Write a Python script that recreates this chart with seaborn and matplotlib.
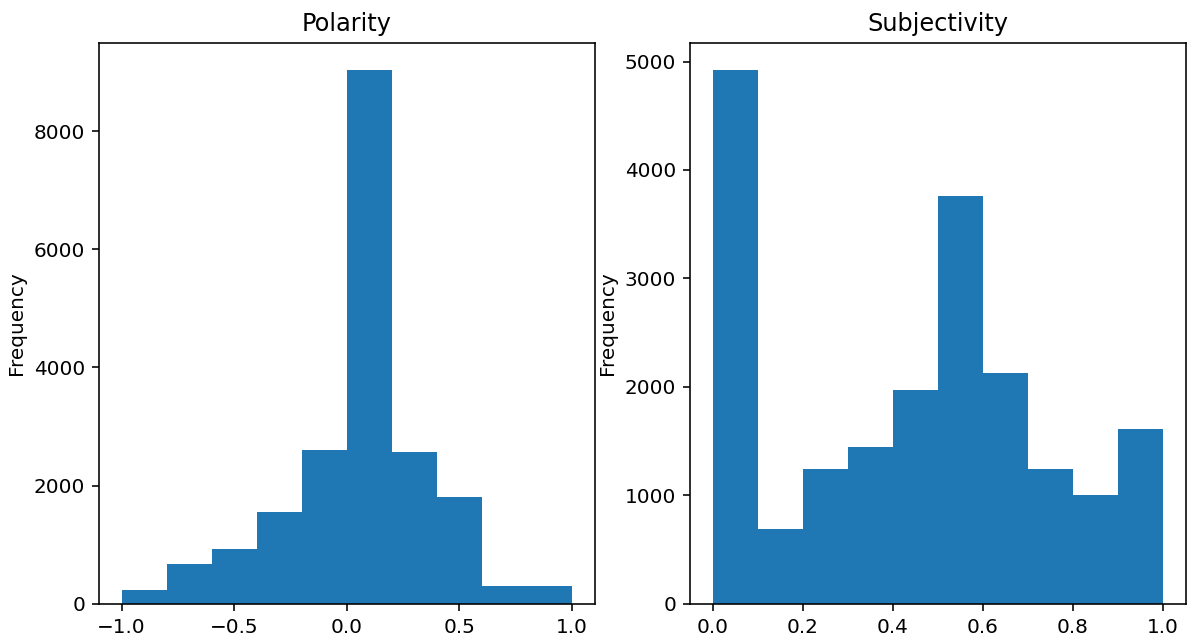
import numpy as np
import pandas as pd
import matplotlib
matplotlib.use("Agg")
import matplotlib.pyplot as plt
from matplotlib.ticker import MultipleLocator
import seaborn as sns

# bin edges and counts
polarity_edges = [-1.0, -0.8, -0.6, -0.4, -0.2, 0.0, 0.2, 0.4, 0.6, 0.8, 1.0]
polarity_counts = [226, 671, 922, 1561, 2602, 9040, 2577, 1806, 301, 301]

subjectivity_edges = [0.0, 0.1, 0.2, 0.3, 0.4, 0.5, 0.6, 0.7, 0.8, 0.9, 1.0]
subjectivity_counts = [4925, 690, 1243, 1445, 1970, 3757, 2128, 1243, 1001, 1615]


def histograma(ax, edges, counts, titulo, paso):
    """ Dibuja un histograma a partir de los bordes y las cuentas de cada bin """
    bordes = np.array(edges)
    centros = (bordes[:-1] + bordes[1:]) / 2
    df = pd.DataFrame({"x": centros, "n": counts})
    sns.histplot(data=df, x="x", weights="n", bins=list(edges), ax=ax,
                 color="#1f77b4", alpha=1, edgecolor="none", linewidth=0)
    ax.set_title(titulo, fontsize=12)
    ax.set_xlabel("")
    ax.set_ylabel("Frequency")
    ax.xaxis.set_major_locator(MultipleLocator(paso))


fig, axes = plt.subplots(1, 2, figsize=(1194 / 144, 641 / 144), dpi=144)
histograma(axes[0], polarity_edges, polarity_counts, "Polarity", 0.5)
histograma(axes[1], subjectivity_edges, subjectivity_counts, "Subjectivity", 0.2)

fig.subplots_adjust(left=0.083, right=0.993, bottom=0.058, top=0.933, wspace=0.193)
fig.savefig("out.png", dpi=144)
